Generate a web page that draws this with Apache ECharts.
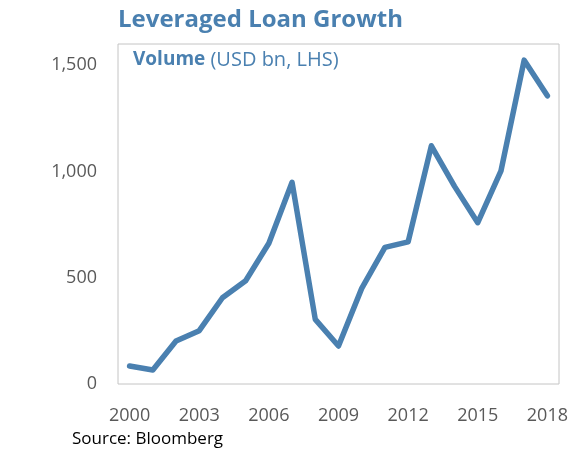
<!DOCTYPE html>
<html>
<head>
<meta charset="utf-8">
<script src="https://cdn.jsdelivr.net/npm/echarts@6/dist/echarts.min.js"></script>
<style>
html, body { margin: 0; padding: 0; background: #fff; }
#chart { width: 577px; height: 452px; }
</style>
</head>
<body>
<div id="chart"></div>
<script>
// data
var years = ['2000','2001','2002','2003','2004','2005','2006','2007','2008','2009',
	'2010','2011','2012','2013','2014','2015','2016','2017','2018'];
var volume = [85, 66, 202, 251, 406, 486, 662, 949, 304, 179,
	450, 643, 669, 1121, 930, 759, 1003, 1524, 1356];
var yTicks = [0, 500, 1000, 1500];

var BLUE = '#4a80b0';
var GREY = '#595959';
var FONT = 'Open Sans';

var chart = echarts.init(document.getElementById('chart'));
chart.setOption({
	animation: false,
	textStyle: { fontFamily: FONT },
	title: [{
		text: 'Leveraged Loan Growth',
		left: 113,
		top: 3,
		textStyle: { color: BLUE, fontSize: 24, fontWeight: 'bold', fontFamily: FONT }
	}, {
		text: '{b|Volume} (USD bn, LHS)',
		left: 128,
		top: 45,
		textStyle: {
			color: BLUE, fontSize: 20, fontWeight: 'normal', fontFamily: FONT,
			rich: { b: { color: BLUE, fontSize: 19, fontWeight: 'bold', fontFamily: FONT } }
		}
	}, {
		text: 'Source: Bloomberg',
		left: 67,
		top: 426,
		textStyle: { color: '#000', fontSize: 17, fontWeight: 'normal', fontFamily: FONT }
	}],
	grid: {
		left: 118,
		right: 18,
		top: 44,
		bottom: 68,
		show: true,
		borderColor: '#c4c4c4',
		borderWidth: 1
	},
	xAxis: {
		type: 'category',
		data: years,
		boundaryGap: true,
		axisLine: { show: false },
		axisTick: { show: false },
		axisLabel: {
			interval: 2,
			margin: 23,
			color: GREY,
			fontSize: 18,
			fontFamily: FONT
		}
	},
	yAxis: {
		type: 'value',
		min: yTicks[0],
		max: 1600,
		interval: 500,
		splitLine: { show: false },
		axisLine: { show: false },
		axisTick: { show: false },
		axisLabel: {
			margin: 21,
			color: GREY,
			fontSize: 18,
			fontFamily: FONT,
			showMaxLabel: false
		}
	},
	series: [{
		name: 'Volume',
		type: 'line',
		data: volume,
		symbol: 'none',
		lineStyle: { color: BLUE, width: 5.5, cap: 'round', join: 'round' }
	}]
});
</script>
</body>
</html>
